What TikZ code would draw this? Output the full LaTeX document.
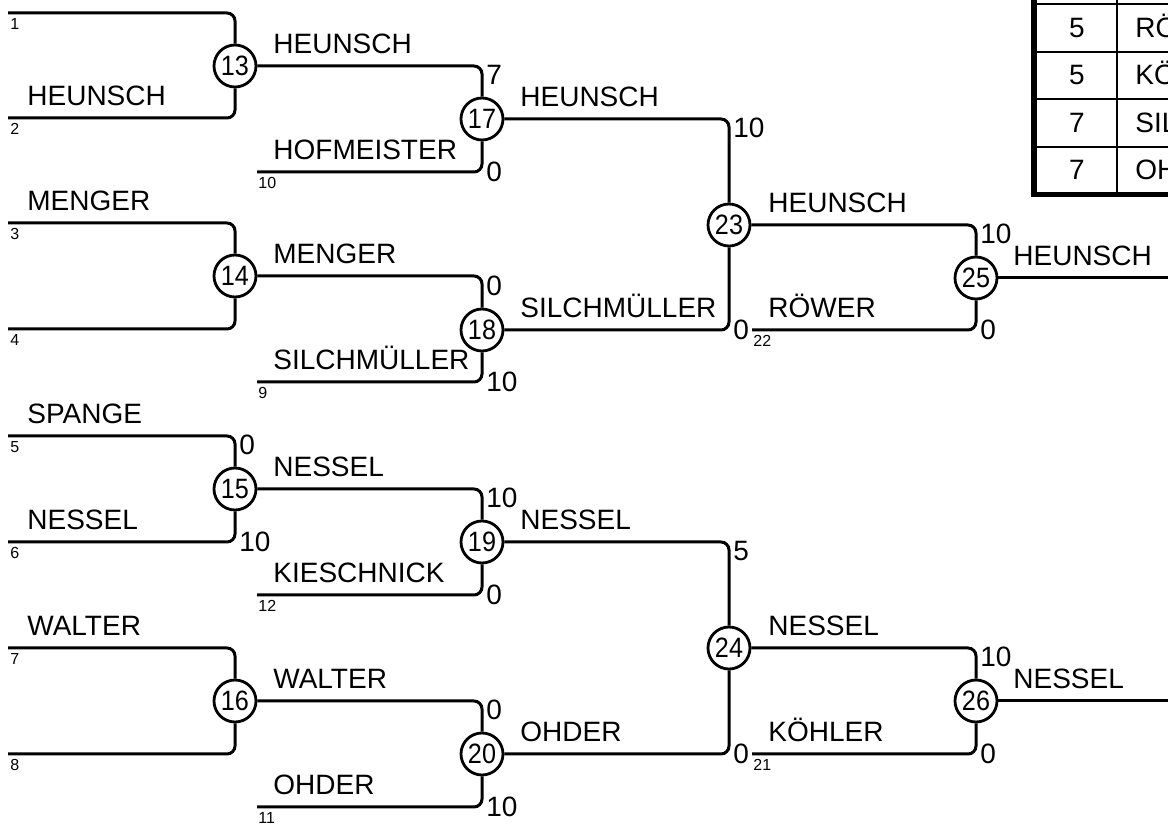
\documentclass[tikz,border=0pt]{standalone}
\usepackage{graphicx}
\usepackage{fontspec}
\setmainfont{Liberation Sans}
\newcommand\mnum[1]{\scalebox{0.9}[1]{#1}}
\begin{document}
\begin{tikzpicture}[x=0.5pt,y=-0.5pt,
  ln/.style={line width=1.5pt, rounded corners=4pt},
  mnode/.style={circle, draw, fill=white, line width=1.4pt, minimum size=21pt, inner sep=0pt, font=\fontsize{14}{14}\selectfont},
  nm/.style={anchor=base west, inner sep=0pt, font=\fontsize{14}{16}\selectfont},
  sct/.style={anchor=north west, inner sep=0pt, font=\fontsize{14}{16}\selectfont},
  scb/.style={anchor=west, inner sep=0pt, font=\fontsize{14}{16}\selectfont},
  sm/.style={anchor=north west, inner sep=0pt, font=\fontsize{8}{9}\selectfont},
  tbl/.style={inner sep=0pt, font=\fontsize{14}{16}\selectfont},
]
\useasboundingbox (0,0) rectangle (1168,833);
\clip (0,0) rectangle (1168,833);

% ---------- table (cropped) ----------
\draw[line width=1.2pt] (1034,4) -- (1200,4);
\draw[line width=1.2pt] (1034,52) -- (1200,52);
\draw[line width=1.2pt] (1034,99) -- (1200,99);
\draw[line width=1.2pt] (1034,147) -- (1200,147);
\draw[line width=1.2pt] (1117,-10) -- (1117,194);
\draw[line width=2.6pt] (1034,-10) -- (1034,194.5) -- (1200,194.5);
\node[tbl, anchor=base] (t1a) at (1077,38) {5};
\node[tbl, anchor=base] (t2a) at (1077,85) {5};
\node[tbl, anchor=base] (t3a) at (1077,133) {7};
\node[tbl, anchor=base] (t4a) at (1077,180) {7};
\node[tbl, anchor=base west] (t1b) at (1135,38) {RÖ};
\node[tbl, anchor=base west] (t2b) at (1135,85) {KÖ};
\node[tbl, anchor=base west] (t3b) at (1135,133) {SIL};
\node[tbl, anchor=base west] (t4b) at (1135,180) {OH};

% ---------- start coordinates ----------
\coordinate (s1) at (8,13);
\coordinate (s2) at (8,118);
\coordinate (s3) at (8,223);
\coordinate (s4) at (8,329);
\coordinate (s5) at (8,436);
\coordinate (s6) at (8,542);
\coordinate (s7) at (8,648);
\coordinate (s8) at (8,754);
\coordinate (s10) at (257,172);
\coordinate (s9) at (257,382);
\coordinate (s12) at (257,595);
\coordinate (s11) at (257,807);
\coordinate (s22) at (752,330);
\coordinate (s21) at (752,754);
\coordinate (e25) at (1168,278);
\coordinate (e26) at (1168,701);

% ---------- match nodes ----------
\node[mnode] (m13) at (235,66) {\mnum{13}};
\node[mnode] (m14) at (235,276) {\mnum{14}};
\node[mnode] (m15) at (235,489) {\mnum{15}};
\node[mnode] (m16) at (235,701) {\mnum{16}};
\node[mnode] (m17) at (482,119) {\mnum{17}};
\node[mnode] (m18) at (482,330) {\mnum{18}};
\node[mnode] (m19) at (482,542) {\mnum{19}};
\node[mnode] (m20) at (482,754) {\mnum{20}};
\node[mnode] (m23) at (729,225) {\mnum{23}};
\node[mnode] (m24) at (729,648) {\mnum{24}};
\node[mnode] (m25) at (976,278) {\mnum{25}};
\node[mnode] (m26) at (976,701) {\mnum{26}};

% ---------- connectors ----------
\draw[ln] (s1) -| (m13.north);
\draw[ln] (s2) -| (m13.south);
\draw[ln] (s3) -| (m14.north);
\draw[ln] (s4) -| (m14.south);
\draw[ln] (s5) -| (m15.north);
\draw[ln] (s6) -| (m15.south);
\draw[ln] (s7) -| (m16.north);
\draw[ln] (s8) -| (m16.south);
\draw[ln] (m13.east) -| (m17.north);
\draw[ln] (s10) -| (m17.south);
\draw[ln] (m14.east) -| (m18.north);
\draw[ln] (s9) -| (m18.south);
\draw[ln] (m15.east) -| (m19.north);
\draw[ln] (s12) -| (m19.south);
\draw[ln] (m16.east) -| (m20.north);
\draw[ln] (s11) -| (m20.south);
\draw[ln] (m17.east) -| (m23.north);
\draw[ln] (m18.east) -| (m23.south);
\draw[ln] (m19.east) -| (m24.north);
\draw[ln] (m20.east) -| (m24.south);
\draw[ln] (m23.east) -| (m25.north);
\draw[ln] (s22) -| (m25.south);
\draw[ln] (m24.east) -| (m26.north);
\draw[ln] (s21) -| (m26.south);
\draw[ln] (m25.east) -- (e25);
\draw[ln] (m26.east) -- (e26);

% ---------- names ----------
\node[nm] (n2) at (27,106) {HEUNSCH};
\node[nm] (n3) at (27,211) {MENGER};
\node[nm] (n5) at (27,424) {SPANGE};
\node[nm] (n6) at (27,530) {NESSEL};
\node[nm] (n7) at (27,636) {WALTER};
\node[nm] (n13) at (273,54) {HEUNSCH};
\node[nm] (n10) at (273,160) {HOFMEISTER};
\node[nm] (n14) at (273,264) {MENGER};
\node[nm] (n9) at (273,370) {SILCHMÜLLER};
\node[nm] (n15) at (273,477) {NESSEL};
\node[nm] (n12) at (273,583) {KIESCHNICK};
\node[nm] (n16) at (273,689) {WALTER};
\node[nm] (n11) at (273,795) {OHDER};
\node[nm] (n17) at (520,107) {HEUNSCH};
\node[nm] (n18) at (520,318) {SILCHMÜLLER};
\node[nm] (n19) at (520,530) {NESSEL};
\node[nm] (n20) at (520,742) {OHDER};
\node[nm] (n23) at (768,213) {HEUNSCH};
\node[nm] (n22) at (768,318) {RÖWER};
\node[nm] (n24) at (768,636) {NESSEL};
\node[nm] (n21) at (768,742) {KÖHLER};
\node[nm] (n25) at (1013,266) {HEUNSCH};
\node[nm] (n26) at (1013,689) {NESSEL};

% ---------- scores ----------
\node[sct] (c15t) at (239,435) {0};
\node[scb] (c15b) at (239,542) {10};
\node[sct] (c17t) at (486,65) {7};
\node[scb] (c17b) at (486,172) {0};
\node[sct] (c18t) at (486,276) {0};
\node[scb] (c18b) at (486,382) {10};
\node[sct] (c19t) at (486,488) {10};
\node[scb] (c19b) at (486,595) {0};
\node[sct] (c20t) at (486,700) {0};
\node[scb] (c20b) at (486,807) {10};
\node[sct] (c23t) at (733,118) {10};
\node[scb] (c23b) at (733,330) {0};
\node[sct] (c24t) at (733,541) {5};
\node[scb] (c24b) at (733,754) {0};
\node[sct] (c25t) at (980,224) {10};
\node[scb] (c25b) at (980,330) {0};
\node[sct] (c26t) at (980,647) {10};
\node[scb] (c26b) at (980,754) {0};

% ---------- small seed numbers ----------
\node[sm] (k1) at (10,18) {1};
\node[sm] (k2) at (10,123) {2};
\node[sm] (k3) at (10,228) {3};
\node[sm] (k4) at (10,334) {4};
\node[sm] (k5) at (10,441) {5};
\node[sm] (k6) at (10,547) {6};
\node[sm] (k7) at (10,653) {7};
\node[sm] (k8) at (10,759) {8};
\node[sm] (k10) at (258,177) {10};
\node[sm] (k9) at (258,387) {9};
\node[sm] (k12) at (258,600) {12};
\node[sm] (k11) at (258,812) {11};
\node[sm] (k22) at (753,335) {22};
\node[sm] (k21) at (753,759) {21};
\end{tikzpicture}
\end{document}
